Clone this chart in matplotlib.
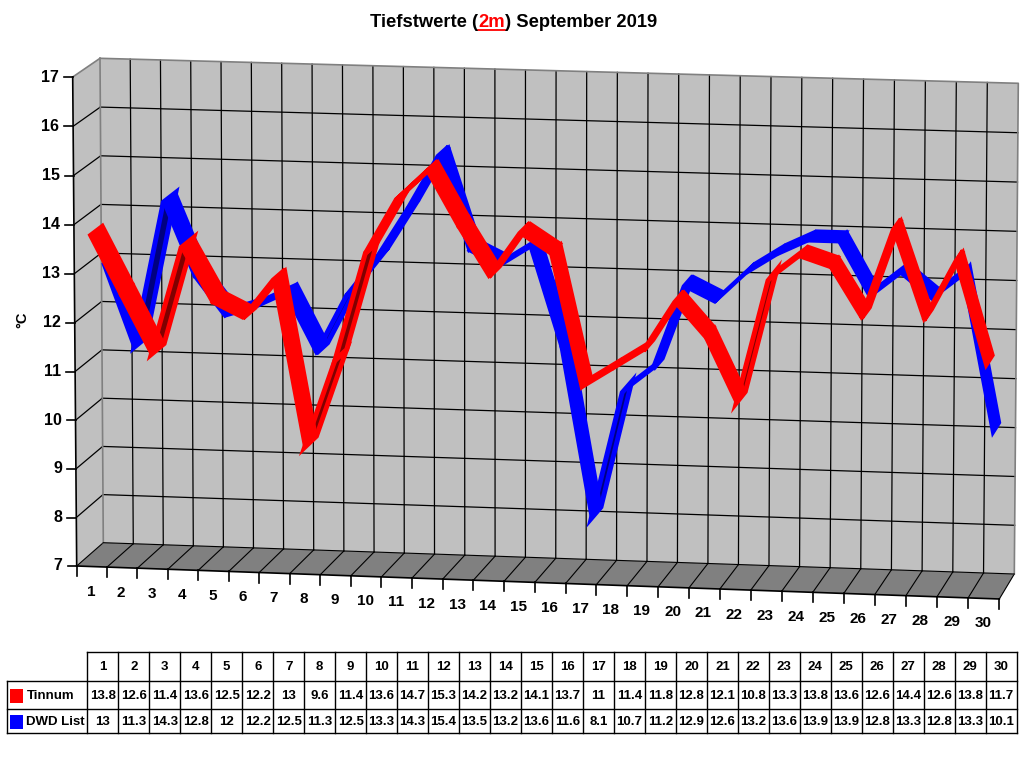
import numpy as np
import matplotlib
matplotlib.use("Agg")
import matplotlib.pyplot as plt
from matplotlib.patches import Polygon, Rectangle

# ---------------- data ----------------
days = list(range(1, 31))
tinnum = [13.8, 12.6, 11.4, 13.6, 12.5, 12.2, 13, 9.6, 11.4, 13.6, 14.7, 15.3, 14.2, 13.2, 14.1,
          13.7, 11, 11.4, 11.8, 12.8, 12.1, 10.8, 13.3, 13.8, 13.6, 12.6, 14.4, 12.6, 13.8, 11.7]
dwd_list = [13, 11.3, 14.3, 12.8, 12, 12.2, 12.5, 11.3, 12.5, 13.3, 14.3, 15.4, 13.5, 13.2, 13.6,
            11.6, 8.1, 10.7, 11.2, 12.9, 12.6, 13.2, 13.6, 13.9, 13.9, 12.8, 13.3, 12.8, 13.3, 10.1]
series_names = ["Tinnum", "DWD List"]
y_ticks = list(range(7, 18))
title_parts = ["Tiefstwerte (", "2m", ") September 2019"]
y_label = "°C"

# ---------------- style ----------------
FONT = "Liberation Sans"
plt.rcParams["font.family"] = [FONT, "DejaVu Sans"]
RED, DARKRED = "#FF0000", "#800000"
BLUE, NAVY = "#0000FF", "#000080"
WALL, FLOOR, EDGE = "#C0C0C0", "#808080", "#808080"

W, H = 1024, 768
fig = plt.figure(figsize=(W / 100, H / 100), dpi=100)
ax = fig.add_axes([0, 0, 1, 1])
ax.set_xlim(0, W)
ax.set_ylim(H, 0)
ax.axis("off")

n = len(days)
vmin, vmax = y_ticks[0], y_ticks[-1]


# ---------------- perspective projection (category pos, value, depth) -> pixels ----------------
def homography(src, dst):
    A, b = [], []
    for (x, y), (X, Y) in zip(src, dst):
        A.append([x, y, 1, 0, 0, 0, -X * x, -X * y]); b.append(X)
        A.append([0, 0, 0, x, y, 1, -Y * x, -Y * y]); b.append(Y)
    h = np.linalg.solve(np.array(A, float), np.array(b, float))
    return np.append(h, 1).reshape(3, 3)


src = [(0, vmin), (0, vmax), (n, vmin), (n, vmax)]
H_front = homography(src, [(76.7, 566), (72.7, 77), (999.3, 599), (1004.3, 103.5)])
H_back = homography(src, [(103.3, 542.7), (100, 58.3), (1014.3, 574), (1018.3, 83.3)])


def apply_h(Hm, u, v):
    u = np.atleast_1d(np.asarray(u, float)); v = np.atleast_1d(np.asarray(v, float))
    p = Hm @ np.vstack([u, v, np.ones_like(u)])
    return p[0] / p[2], p[1] / p[2]


def proj(u, v, z):
    u, v = np.broadcast_arrays(np.atleast_1d(np.asarray(u, float)), np.atleast_1d(np.asarray(v, float)))
    fx, fy = apply_h(H_front, u, v)
    bx, by = apply_h(H_back, u, v)
    return (1 - z) * fx + z * bx, (1 - z) * fy + z * by


def poly(xs, ys, **kw):
    ax.add_patch(Polygon(np.column_stack([xs, ys]), closed=True, **kw))


def line3(u, v, z, **kw):
    x, y = proj(u, v, z)
    ax.plot(x, y, **kw)


# ---------------- walls & floor ----------------
bx, by = proj([0, n, n, 0], [vmin, vmin, vmax, vmax], 1)
poly(bx, by, facecolor=WALL, edgecolor="none", zorder=1)
lx0, ly0 = proj([0, 0], [vmin, vmax], 0)
lx1, ly1 = proj([0, 0], [vmin, vmax], 1)
poly([lx0[0], lx1[0], lx1[1], lx0[1]], [ly0[0], ly1[0], ly1[1], ly0[1]], facecolor=WALL, edgecolor="none", zorder=1)
fx0, fy0 = proj([0, n], [vmin, vmin], 0)
fx1, fy1 = proj([0, n], [vmin, vmin], 1)
poly([fx0[0], fx0[1], fx1[1], fx1[0]], [fy0[0], fy0[1], fy1[1], fy1[0]], facecolor=FLOOR, edgecolor="none", zorder=1)

# gridlines on back wall and left wall
for t in y_ticks[1:-1]:
    line3([0, n], [t, t], 1, color="black", lw=0.9, zorder=2)
    x0, y0 = proj(0, t, 0); x1, y1 = proj(0, t, 1)
    ax.plot([x0[0], x1[0]], [y0[0], y1[0]], color="black", lw=0.9, zorder=2)
for k in range(1, n):
    line3([k, k], [vmin, vmax], 1, color="black", lw=0.9, zorder=2)
# floor lines
for k in range(0, n + 1):
    x0, y0 = proj(k, vmin, 0); x1, y1 = proj(k, vmin, 1)
    ax.plot([x0[0], x1[0]], [y0[0], y1[0]], color="black", lw=0.8, zorder=2)
# wall edges
line3([0, n, n], [vmax, vmax, vmin], 1, color=EDGE, lw=1.2, zorder=2)
line3([0, 0], [vmin, vmax], 1, color=EDGE, lw=1.2, zorder=2)
ax.plot([lx0[1], lx1[1]], [ly0[1], ly1[1]], color=EDGE, lw=1.2, zorder=2)
line3([0, n], [vmin, vmin], 1, color="black", lw=0.8, zorder=2)


# ---------------- ribbons ----------------
def ribbon(values, z0, z1, bright, dark, zo):
    u = np.array(days, float) - 0.5
    v = np.array(values, float)
    ax0, ay0 = proj(u, v, z0)
    ax1, ay1 = proj(u, v, z1)
    for i in range(len(u) - 1):
        qx = [ax0[i], ax0[i + 1], ax1[i + 1], ax1[i]]
        qy = [ay0[i], ay0[i + 1], ay1[i + 1], ay1[i]]
        cross = (ax0[i + 1] - ax0[i]) * (ay1[i] - ay0[i]) - (ay0[i + 1] - ay0[i]) * (ax1[i] - ax0[i])
        if cross < 0:
            poly(qx, qy, facecolor=bright, edgecolor=bright, lw=2.0, joinstyle="miter", zorder=zo + 0.1)
        else:
            poly(qx, qy, facecolor=dark, edgecolor=bright, lw=3.5, joinstyle="miter", zorder=zo)


ribbon(dwd_list, 0.50, 0.98, BLUE, NAVY, 3)
ribbon(tinnum, 0.0, 0.50, RED, DARKRED, 5)

# ---------------- axes lines, ticks, labels ----------------
line3([0, 0], [vmin, vmax], 0, color="black", lw=1.2, zorder=6)
line3([0, n], [vmin, vmin], 0, color="black", lw=1.2, zorder=6)
for t in y_ticks:
    x, y = proj(0, t, 0)
    ax.plot([x[0] - 9, x[0]], [y[0], y[0]], color="black", lw=1.2, zorder=6)
    ax.text(x[0] - 14, y[0], str(t), ha="right", va="center", fontsize=11.5, fontweight="bold", zorder=6)
for k in range(0, n + 1):
    x, y = proj(k, vmin, 0)
    ax.plot([x[0], x[0]], [y[0], y[0] + 10], color="black", lw=1.2, zorder=6)
for i, d in enumerate(days):
    x, y = proj(i + 0.5, vmin, 0)
    ax.text(x[0] - 1, y[0] + 25, str(d), ha="center", va="center", fontsize=11, fontweight="bold", zorder=6)

ax.text(22, 320, y_label, rotation=90, ha="center", va="center", fontsize=10.5, fontweight="bold")

# ---------------- title ----------------
TS = 13.2
t1 = ax.text(370, 27, title_parts[0], ha="left", va="baseline", fontsize=TS, fontweight="bold")
t2 = ax.annotate(title_parts[1], xy=(1, 0), xycoords=t1, ha="left", va="bottom",
                 fontsize=TS, fontweight="bold", color=RED)
t3 = ax.annotate(title_parts[2], xy=(1, 0), xycoords=t2, ha="left", va="bottom",
                 fontsize=TS, fontweight="bold")
fig.canvas.draw()
r = fig.canvas.get_renderer()
bb = t2.get_window_extent(r)
ax.plot([bb.x0, bb.x1], [29.5, 29.5], color=RED, lw=1.3)

# ---------------- data table ----------------
col_x = np.linspace(87.3, 1016.7, n + 1)
row_y = [652, 680.7, 708.7, 733]
lab_x0 = 7.3
tl = dict(color="black", lw=1.0, zorder=6)
ax.plot([col_x[0], col_x[-1]], [row_y[0], row_y[0]], **tl)
for ry in row_y[1:]:
    ax.plot([lab_x0, col_x[-1]], [ry, ry], **tl)
for cx in col_x:
    ax.plot([cx, cx], [row_y[0], row_y[-1]], **tl)
ax.plot([lab_x0, lab_x0], [row_y[1], row_y[-1]], **tl)

cxs = (col_x[:-1] + col_x[1:]) / 2
for j, d in enumerate(days):
    ax.text(cxs[j], (row_y[0] + row_y[1]) / 2 + 1, str(d), ha="center", va="center",
            fontsize=9.5, fontweight="bold")
for r_i, (vals, name, col) in enumerate(zip([tinnum, dwd_list], series_names, [RED, BLUE])):
    yc = (row_y[r_i + 1] + row_y[r_i + 2]) / 2 + 1
    ax.add_patch(Rectangle((10, yc - 7), 12.5, 14, facecolor=col, edgecolor="none"))
    ax.text(26.5, yc, name, ha="left", va="center", fontsize=9.5, fontweight="bold")
    for j, v in enumerate(vals):
        ax.text(cxs[j], yc, f"{v:g}", ha="center", va="center", fontsize=9.5, fontweight="bold")

fig.savefig("out.png", dpi=100, facecolor="white")
